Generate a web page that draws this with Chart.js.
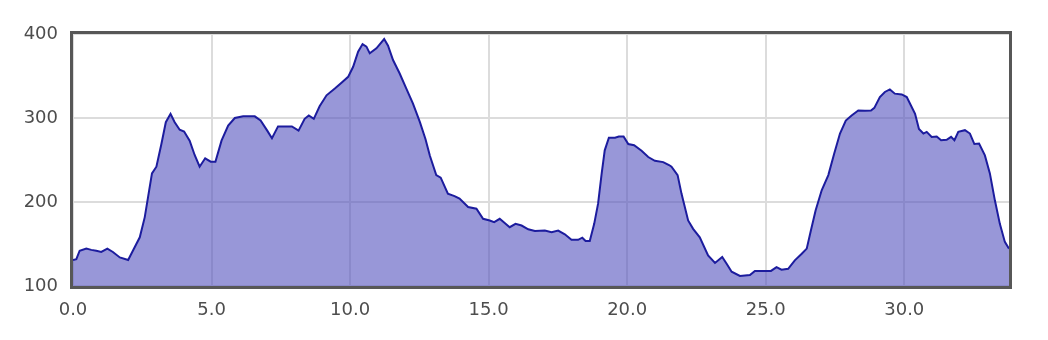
<!DOCTYPE html>
<html>
<head>
<meta charset="utf-8">
<script src="https://cdn.jsdelivr.net/npm/chart.js@4/dist/chart.umd.min.js"></script>
<style>
  html, body { margin: 0; padding: 0; background: #fff; }
  #wrap { width: 1048px; height: 340px; }
</style>
</head>
<body>
<div id="wrap"><canvas id="profile" width="1048" height="340"></canvas></div>
<script>
  // ---------- data (distance, elevation) ----------
  const distance = [
    0, 0.12, 0.24, 0.48, 0.66, 0.84, 1.02, 1.24, 1.44, 1.69, 1.99, 2.17, 2.41, 2.59, 2.71, 2.85,
    3.01, 3.19, 3.35, 3.52, 3.67, 3.85, 4.01, 4.21, 4.39, 4.57, 4.77, 4.97, 5.14, 5.36, 5.60, 5.84,
    6.14, 6.56, 6.77, 7.01, 7.18, 7.40, 7.64, 7.90, 8.14, 8.36, 8.51, 8.69, 8.90, 9.15, 9.45, 9.69,
    9.93, 10.11, 10.29, 10.45, 10.59, 10.71, 10.95, 11.23, 11.37, 11.55, 11.79, 12.03, 12.27, 12.52,
    12.72, 12.88, 13.11, 13.27, 13.53, 13.77, 13.95, 14.26, 14.56, 14.80, 15.04, 15.20, 15.40, 15.58,
    15.76, 15.97, 16.19, 16.43, 16.67, 17.03, 17.27, 17.51, 17.75, 17.99, 18.23, 18.38, 18.50, 18.65,
    18.81, 18.95, 19.08, 19.19, 19.34, 19.56, 19.70, 19.87, 20.04, 20.25, 20.52, 20.76, 21.00, 21.30,
    21.51, 21.60, 21.82, 21.96, 22.20, 22.38, 22.62, 22.92, 23.17, 23.43, 23.59, 23.77, 24.07, 24.43,
    24.61, 24.97, 25.19, 25.39, 25.57, 25.81, 26.05, 26.30, 26.48, 26.63, 26.80, 27.02, 27.26, 27.47,
    27.68, 27.89, 28.10, 28.34, 28.58, 28.80, 28.92, 29.12, 29.30, 29.48, 29.66, 29.91, 30.09, 30.21,
    30.39, 30.53, 30.69, 30.81, 30.99, 31.17, 31.33, 31.53, 31.69, 31.81, 31.95, 32.19, 32.37, 32.53,
    32.70, 32.91, 33.09, 33.27, 33.45, 33.63, 33.78
  ];
  const elevation = [
    131, 132, 142, 144.5, 143, 142, 140.5, 144.5, 140.5, 134, 131, 142.5, 158, 182, 206, 234,
    242, 269, 295, 305, 295, 286, 284, 273, 256, 242, 252, 248, 248, 273, 291, 300,
    302, 302, 297, 285, 276, 290, 290, 290, 285, 299, 303, 299, 314, 327, 335, 342,
    349, 361, 379, 388, 385, 377, 383, 394, 386, 369, 353, 335, 317, 295,
    275, 255, 232, 229, 210, 207, 204, 194, 192, 180, 178, 176, 180, 175,
    170, 174, 172, 167.5, 165.5, 166, 164, 166, 161.5, 155, 155, 157.5, 153.5, 153.5,
    174, 198, 234, 261.5, 276.5, 276.5, 278, 278, 269, 267.5, 261, 253.5, 249, 247.5,
    244, 242, 232, 210, 178, 168, 158, 136.5, 127.5, 134.5, 126.5, 117, 112, 113,
    118, 118, 118, 122.5, 119.5, 120.5, 130.5, 138.5, 144.5, 166, 190, 214, 232, 257.5,
    281.5, 297, 303, 309, 308.5, 309, 312, 325, 331, 334, 329, 328, 325, 317,
    305, 287, 281.5, 283.5, 277.5, 278, 273.5, 274, 277.5, 273.5, 283.5, 285.5, 281.5, 269,
    269.5, 255.5, 234, 202, 174, 152.5, 144.5
  ];
  const xMax = 33.78;
  const yTicks = [100, 200, 300, 400];

  const LINE = "#1c1c9e";
  const FILL = "rgba(84, 82, 190, 0.6)";
  const GRID = "#dcdcdc";
  const TEXT = "#4d4d4d";

  // thick frame around the plot area
  const framePlugin = {
    id: "frame",
    afterDraw(chart) {
      const { ctx, chartArea: a } = chart;
      ctx.save();
      ctx.strokeStyle = "#575757";
      ctx.lineWidth = 3;
      ctx.strokeRect(a.left - 1.5, a.top - 1.5, a.right - a.left + 3, a.bottom - a.top + 3);
      ctx.restore();
    },
  };

  new Chart(document.getElementById("profile"), {
    type: "line",
    data: {
      datasets: [{
        data: distance.map((d, i) => ({ x: d, y: elevation[i] })),
        borderColor: LINE,
        backgroundColor: FILL,
        borderWidth: 2,
        tension: 0,
        pointRadius: 0,
        fill: "start",
      }],
    },
    options: {
      responsive: false,
      animation: false,
      events: [],
      layout: { padding: { left: 0, right: 39, top: 34, bottom: 0 } },
      plugins: { legend: { display: false }, tooltip: { enabled: false } },
      scales: {
        x: {
          type: "linear",
          min: 0,
          max: xMax,
          afterFit: (s) => { s.height = 54; },
          border: { display: false },
          grid: { color: GRID, lineWidth: 2, drawTicks: false },
          ticks: {
            stepSize: 5,
            includeBounds: false,
            padding: 14,
            color: TEXT,
            font: { family: "DejaVu Sans", size: 18 },
            callback: (v) => v.toFixed(1),
          },
        },
        y: {
          min: yTicks[0],
          max: yTicks[yTicks.length - 1],
          afterFit: (s) => { s.width = 73; },
          border: { display: false },
          grid: { color: GRID, lineWidth: 2, drawTicks: false },
          ticks: {
            stepSize: 100,
            padding: 15,
            color: TEXT,
            font: { family: "DejaVu Sans", size: 18 },
          },
        },
      },
    },
    plugins: [framePlugin],
  });
</script>
</body>
</html>
